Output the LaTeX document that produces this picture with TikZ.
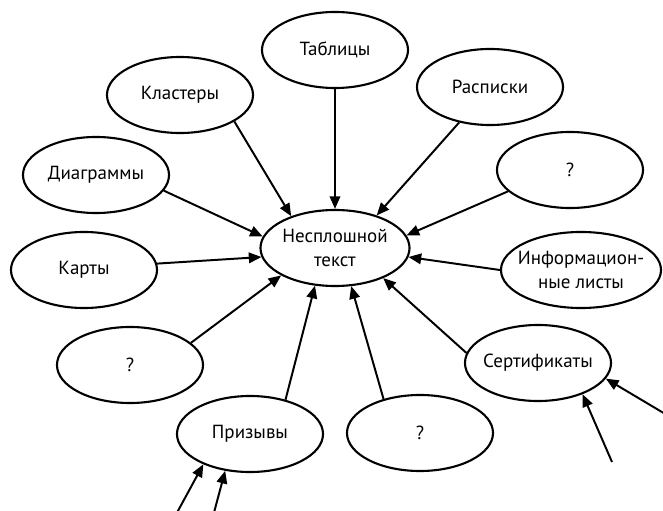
\documentclass[tikz,border=0pt]{standalone}
\usepackage{fontspec}
\setmainfont{PT Sans}
\usepackage{tikz}
\usetikzlibrary{shapes.geometric, arrows.meta}

\begin{document}
\begin{tikzpicture}[
    x={(0.025cm,0)}, y={(0,-0.025cm)},
    bubble/.style={ellipse, draw=black, line width=1.5pt, fill=white,
                   minimum width=3.65cm, minimum height=1.9cm, inner sep=0pt,
                   align=center, font=\fontsize{13.5}{17}\selectfont},
    arr/.style={-{Triangle[length=9pt, width=7.5pt]}, line width=1.4pt, black}
]
\useasboundingbox (0,0) rectangle (663,511);

% --- Centre ---
\node[bubble] (main) at (335,248) {Несплошной\\текст};

% --- Outer bubbles ---
\node[bubble] (tab)   at (335,50)  {Таблицы};
\node[bubble] (klas)  at (180,95)  {Кластеры};
\node[bubble] (rasp)  at (490,87)  {Расписки};
\node[bubble] (diag)  at (96,175)  {Диаграммы};
\node[bubble] (qtr)   at (570,170) {?};
\node[bubble] (kart)  at (84,270)  {Карты};
\node[bubble, minimum width=4.0cm, inner xsep=-5pt] (inf) at (581,270) {Информацион-\\ные листы};
\node[bubble] (qbl)   at (130,365) {?};
\node[bubble, inner xsep=-3pt] (sert)  at (538,363) {Сертификаты};
\node[bubble] (priz)  at (250,434) {Призывы};
\node[bubble] (qbot)  at (420,433) {?};

% --- Loose ends ---
\coordinate (p1) at (173,520);
\coordinate (p2) at (212,520);
\coordinate (s1) at (612,462);
\coordinate (s2) at (672,418);

% --- Arrows: bubbles -> centre ---
\draw[arr] (tab.south) -- (main.north);
\draw[arr] (klas.-26) -- (main.144);
\draw[arr] (rasp.229) -- (main.38);
\draw[arr] (diag.-13) -- (main.171);
\draw[arr] (qtr.199) -- (main.10);
\draw[arr] (kart.5) -- (main.187);
\draw[arr] (inf.180) -- (main.353);
\draw[arr] (qbl.20) -- (main.207);
\draw[arr] (priz.44) -- (main.242);
\draw[arr] (qbot.137) -- (main.293);
\draw[arr] (sert.172) -- (main.328);

% --- Arrows: loose ends -> bubbles ---
\draw[arr] (p1) -- (priz.213);
\draw[arr] (p2) -- (priz.236);
\draw[arr] (s1) -- (sert.325);
\draw[arr] (s2) -- (sert.347);

\end{tikzpicture}
\end{document}
